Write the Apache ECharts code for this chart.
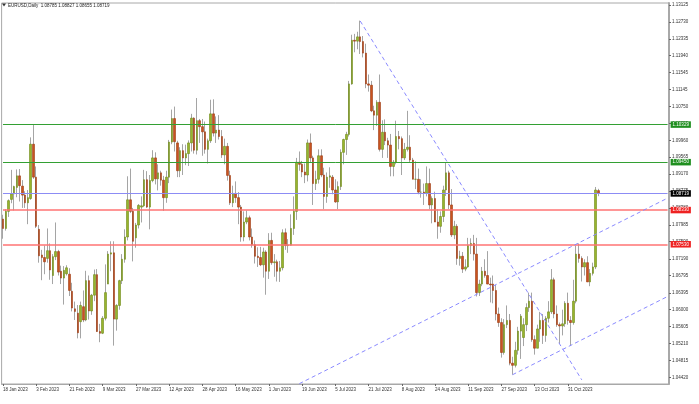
<!DOCTYPE html>
<html><head><meta charset="utf-8">
<script src="https://cdn.jsdelivr.net/npm/echarts@6/dist/echarts.min.js"></script>
<style>html,body{margin:0;padding:0;background:#fff}#c{width:699px;height:404px}</style>
</head><body><div id="c"></div>
<script>
const dates = [
'18 Jan','19 Jan','20 Jan','23 Jan','24 Jan','25 Jan','26 Jan','27 Jan','30 Jan','31 Jan',
'1 Feb','2 Feb','3 Feb','6 Feb','7 Feb','8 Feb','9 Feb','10 Feb','13 Feb','14 Feb','15 Feb','16 Feb','17 Feb','20 Feb','21 Feb','22 Feb','23 Feb','24 Feb','27 Feb','28 Feb',
'1 Mar','2 Mar','3 Mar','6 Mar','7 Mar','8 Mar','9 Mar','10 Mar','13 Mar','14 Mar','15 Mar','16 Mar','17 Mar','20 Mar','21 Mar','22 Mar','23 Mar','24 Mar','27 Mar','28 Mar','29 Mar','30 Mar','31 Mar',
'3 Apr','4 Apr','5 Apr','6 Apr','7 Apr','10 Apr','11 Apr','12 Apr','13 Apr','14 Apr','17 Apr','18 Apr','19 Apr','20 Apr','21 Apr','24 Apr','25 Apr','26 Apr','27 Apr','28 Apr',
'1 May','2 May','3 May','4 May','5 May','8 May','9 May','10 May','11 May','12 May','15 May','16 May','17 May','18 May','19 May','22 May','23 May','24 May','25 May','26 May','29 May','30 May','31 May',
'1 Jun','2 Jun','5 Jun','6 Jun','7 Jun','8 Jun','9 Jun','12 Jun','13 Jun','14 Jun','15 Jun','16 Jun','19 Jun','20 Jun','21 Jun','22 Jun','23 Jun','26 Jun','27 Jun','28 Jun','29 Jun','30 Jun',
'3 Jul','4 Jul','5 Jul','6 Jul','7 Jul','10 Jul','11 Jul','12 Jul','13 Jul','14 Jul','17 Jul','18 Jul','19 Jul','20 Jul','21 Jul','24 Jul','25 Jul','26 Jul','27 Jul','28 Jul','31 Jul',
'1 Aug','2 Aug','3 Aug','4 Aug','7 Aug','8 Aug','9 Aug','10 Aug','11 Aug','14 Aug','15 Aug','16 Aug','17 Aug','18 Aug','21 Aug','22 Aug','23 Aug','24 Aug','25 Aug','28 Aug','29 Aug','30 Aug','31 Aug',
'1 Sep','4 Sep','5 Sep','6 Sep','7 Sep','8 Sep','11 Sep','12 Sep','13 Sep','14 Sep','15 Sep','18 Sep','19 Sep','20 Sep','21 Sep','22 Sep','25 Sep','26 Sep','27 Sep','28 Sep','29 Sep',
'2 Oct','3 Oct','4 Oct','5 Oct','6 Oct','9 Oct','10 Oct','11 Oct','12 Oct','13 Oct','16 Oct','17 Oct','18 Oct','19 Oct','20 Oct','23 Oct','24 Oct','25 Oct','26 Oct','27 Oct','30 Oct','31 Oct',
'1 Nov','2 Nov','3 Nov','6 Nov','7 Nov','8 Nov','9 Nov','10 Nov','13 Nov','14 Nov','15 Nov'];

const opens = [
1.0812,1.0790,1.0830,1.0858,1.0871,1.0886,1.0913,1.0889,1.0868,1.0850,
1.0860,1.0987,1.0910,1.0788,1.0728,1.0722,1.0720,1.0738,1.0680,1.0724,
1.0736,1.0690,1.0674,1.0684,1.0683,1.0643,1.0602,1.0592,1.0572,1.0607,
1.0576,1.0668,1.0597,1.0634,1.0682,1.0549,1.0545,1.0580,1.0660,1.0730,
1.0733,1.0578,1.0610,1.0668,1.0718,1.0770,1.0857,1.0830,1.0768,1.0798,
1.0840,1.0843,1.0904,1.0840,1.0902,1.0955,1.0906,1.0920,1.0903,1.0862,
1.0910,1.0992,1.1047,1.0990,1.0925,1.0972,1.0955,1.0965,1.0990,1.1048,
1.0973,1.1042,1.1028,1.1016,1.0975,1.0995,1.1058,1.1013,1.1020,1.1005,
1.0962,1.0982,1.0914,1.0850,1.0872,1.0862,1.0840,1.0770,1.0805,1.0815,
1.0770,1.0752,1.0725,1.0722,1.0705,1.0735,1.0690,1.0762,1.0710,1.0712,
1.0690,1.0698,1.0780,1.0750,1.0751,1.0790,1.0830,1.0945,1.0940,1.0922,
1.0915,1.0990,1.0955,1.0895,1.0905,1.0960,1.0915,1.0865,1.0910,1.0910,
1.0880,1.0852,1.0888,1.0968,1.0998,1.1010,1.1128,1.1230,1.1228,1.1238,
1.1227,1.1200,1.1128,1.1125,1.1065,1.1055,1.1085,1.0975,1.1015,1.0995,
1.0985,1.0935,1.0945,1.1005,1.1000,1.0955,1.0975,1.0980,1.0950,1.0905,
1.0905,1.0875,1.0875,1.0872,1.0895,1.0845,1.0860,1.0805,1.0795,1.0818,
1.0880,1.0920,1.0845,1.0775,1.0795,1.0720,1.0725,1.0695,1.0700,1.0750,
1.0755,1.0730,1.0640,1.0660,1.0690,1.0680,1.0660,1.0660,1.0645,1.0590,
1.0570,1.0500,1.0565,1.0575,1.0475,1.0470,1.0505,1.0550,1.0535,1.0565,
1.0605,1.0620,1.0530,1.0510,1.0555,1.0575,1.0540,1.0580,1.0595,1.0670,
1.0590,1.0565,1.0562,1.0567,1.0615,1.0575,1.0570,1.0620,1.0730,1.0720,
1.0700,1.0710,1.0665,1.0685,1.0700,1.08785];

const highs = [
1.0822,1.0835,1.0858,1.0927,1.0890,1.0928,1.0929,1.0903,1.0877,1.0880,
1.1003,1.1033,1.0935,1.0798,1.0740,1.0750,1.0790,1.0755,1.0730,1.0804,
1.0740,1.0703,1.0702,1.0704,1.0697,1.0663,1.0619,1.0611,1.0619,1.0645,
1.0691,1.0680,1.0637,1.0694,1.0695,1.0567,1.0585,1.0706,1.0737,1.0760,
1.0760,1.0613,1.0670,1.0730,1.0788,1.0912,1.0930,1.0838,1.0803,1.0847,
1.0865,1.0927,1.0924,1.0915,1.0973,1.0968,1.0940,1.0925,1.0913,1.0925,
1.0997,1.1068,1.1075,1.0995,1.0980,1.0987,1.0986,1.0996,1.1058,1.1050,
1.1095,1.1046,1.1046,1.1040,1.1000,1.1091,1.1092,1.1052,1.1055,1.1020,
1.1000,1.0990,1.0925,1.0890,1.0900,1.0875,1.0845,1.0830,1.0832,1.0820,
1.0790,1.0762,1.0746,1.0747,1.0745,1.0739,1.0779,1.0780,1.0730,1.0717,
1.0714,1.0788,1.0790,1.0765,1.0823,1.0865,1.0955,1.0970,1.0948,1.0942,
1.0998,1.1012,1.0960,1.0925,1.0975,1.0975,1.0932,1.0921,1.0933,1.0915,
1.0905,1.0900,1.0975,1.1000,1.1016,1.1135,1.1243,1.1245,1.1250,1.1276,
1.1240,1.1222,1.1150,1.1135,1.1077,1.1090,1.1150,1.1043,1.1045,1.1002,
1.1011,1.0950,1.1042,1.1018,1.1005,1.0990,1.1065,1.1008,1.0955,1.0947,
1.0930,1.0905,1.0895,1.0935,1.0930,1.0865,1.0876,1.0835,1.0830,1.0890,
1.0945,1.0925,1.0882,1.0808,1.0800,1.0738,1.0735,1.0718,1.0768,1.0767,
1.0775,1.0768,1.0670,1.0700,1.0718,1.0737,1.0675,1.0680,1.0658,1.0605,
1.0580,1.0578,1.0610,1.0590,1.0490,1.0525,1.0560,1.0590,1.0580,1.0615,
1.0640,1.0640,1.0540,1.0565,1.0595,1.0590,1.0585,1.0620,1.0695,1.0675,
1.0610,1.0570,1.0600,1.0620,1.0640,1.0585,1.0670,1.0750,1.0755,1.0725,
1.0718,1.0725,1.0695,1.0710,1.0887,1.08827];

const lows = [
1.0766,1.0785,1.0817,1.0849,1.0832,1.0863,1.0853,1.0838,1.0838,1.0800,
1.0857,1.0906,1.0791,1.0710,1.0669,1.0683,1.0710,1.0670,1.0660,1.0716,
1.0680,1.0660,1.0612,1.0680,1.0632,1.0596,1.0576,1.0533,1.0533,1.0571,
1.0573,1.0577,1.0588,1.0620,1.0548,1.0524,1.0543,1.0575,1.0660,1.0690,
1.0516,1.0551,1.0600,1.0660,1.0710,1.0762,1.0826,1.0713,1.0745,1.0790,
1.0804,1.0840,1.0838,1.0788,1.0898,1.0893,1.0879,1.0890,1.0831,1.0850,
1.0896,1.0987,1.0970,1.0910,1.0910,1.0915,1.0938,1.0936,1.0970,1.0965,
1.0963,1.0990,1.0960,1.0965,1.0942,1.0990,1.1005,1.0990,1.0998,1.0955,
1.0940,1.0902,1.0845,1.0840,1.0850,1.0800,1.0759,1.0760,1.0800,1.0762,
1.0745,1.0708,1.0700,1.0702,1.0675,1.0635,1.0672,1.0705,1.0677,1.0666,
1.0665,1.0692,1.0740,1.0733,1.0750,1.0775,1.0810,1.0925,1.0910,1.0896,
1.0900,1.0945,1.0845,1.0880,1.0895,1.0910,1.0835,1.0850,1.0885,1.0870,
1.0850,1.0835,1.0880,1.0940,1.0962,1.1005,1.1126,1.1202,1.1209,1.1198,
1.1190,1.1118,1.1110,1.1062,1.1020,1.1030,1.0970,1.0955,1.0985,1.0955,
1.0912,1.0912,1.0940,1.0975,1.0915,1.0950,1.0970,1.0945,1.0905,1.0882,
1.0870,1.0862,1.0845,1.0865,1.0835,1.0802,1.0805,1.0766,1.0780,1.0805,
1.0866,1.0835,1.0770,1.0765,1.0705,1.0703,1.0686,1.0690,1.0698,1.0730,
1.0715,1.0631,1.0632,1.0655,1.0675,1.0660,1.0617,1.0615,1.0575,1.0560,
1.0488,1.0495,1.0557,1.0470,1.0448,1.0465,1.0495,1.0485,1.0515,1.0550,
1.0595,1.0525,1.0495,1.0510,1.0525,1.0520,1.0525,1.0570,1.0590,1.0580,
1.0560,1.0520,1.0540,1.0560,1.0565,1.0515,1.0565,1.0615,1.0710,1.0666,
1.0680,1.0665,1.0655,1.0680,1.0695,1.08655];

const closes = [
1.0790,1.0830,1.0855,1.0871,1.0888,1.0913,1.0890,1.0868,1.0850,1.0862,
1.0987,1.0910,1.0795,1.0726,1.0722,1.0712,1.0738,1.0693,1.0724,1.0736,
1.0688,1.0674,1.0692,1.0698,1.0645,1.0604,1.0596,1.0546,1.0610,1.0576,
1.0668,1.0597,1.0634,1.0682,1.0549,1.0545,1.0580,1.0640,1.0730,1.0733,
1.0578,1.0610,1.0668,1.0718,1.0770,1.0857,1.0830,1.0760,1.0798,1.0844,
1.0843,1.0904,1.0840,1.0902,1.0955,1.0906,1.0920,1.0903,1.0862,1.0910,
1.0992,1.1047,1.0993,1.0925,1.0972,1.0955,1.0965,1.0990,1.1048,1.0973,
1.1042,1.1028,1.1016,1.0975,1.0995,1.1058,1.1013,1.1020,1.1005,1.0962,
1.0982,1.0914,1.0850,1.0872,1.0862,1.0840,1.0770,1.0805,1.0815,1.0770,
1.0752,1.0725,1.0722,1.0705,1.0735,1.0690,1.0762,1.0710,1.0712,1.0690,
1.0698,1.0780,1.0750,1.0751,1.0790,1.0830,1.0945,1.0940,1.0922,1.0915,
1.0990,1.0955,1.0895,1.0905,1.0960,1.0915,1.0865,1.0910,1.0913,1.0880,
1.0852,1.0888,1.0968,1.0998,1.1010,1.1128,1.1230,1.1228,1.1238,1.1227,
1.1200,1.1128,1.1125,1.1065,1.1055,1.1085,1.0975,1.1015,1.0995,1.0985,
1.0935,1.0945,1.1005,1.1000,1.0955,1.0975,1.0980,1.0950,1.0905,1.0905,
1.0875,1.0875,1.0872,1.0895,1.0845,1.0860,1.0805,1.0795,1.0818,1.0880,
1.0920,1.0845,1.0775,1.0795,1.0720,1.0725,1.0695,1.0700,1.0750,1.0755,
1.0730,1.0640,1.0660,1.0690,1.0680,1.0660,1.0658,1.0645,1.0590,1.0570,
1.0500,1.0565,1.0575,1.0475,1.0470,1.0505,1.0550,1.0585,1.0565,1.0605,
1.0620,1.0530,1.0510,1.0555,1.0575,1.0540,1.0580,1.0595,1.0670,1.0590,
1.0565,1.0562,1.0567,1.0615,1.0575,1.0570,1.0620,1.0730,1.0720,1.0700,
1.0710,1.0665,1.0685,1.0700,1.0880,1.08719];

const yTickValues = [1.13125,1.12730,1.12335,1.11940,1.11545,1.11145,1.10750,1.10355,1.09960,1.09565,1.09170,1.08775,1.08380,1.07985,1.07590,1.07190,1.06795,1.06395,1.06000,1.05605,1.05210,1.04815,1.04420];
const levelLines = [1.10329, 1.09450, 1.08719, 1.08330, 1.07530];
const trendLines = [
  [[129, 1.1275], [209, 1.0436]],
  [[107, 1.0427], [240, 1.0861]],
  [[184, 1.0448], [240, 1.0631]]
];
const headerText = 'EURUSD,Daily  1.08785 1.08827 1.08655 1.08719';
const yearSuffix = ' 2023';
const labelEvery = 12;
const rightPadBars = 25;

const FONT = 'Liberation Sans';
const categories = dates.concat(new Array(rightPadBars).fill(''));
const nBars = dates.length;
const lastCat = categories.length - 1;
const wickData = dates.map((d, i) => [opens[i], closes[i], lows[i], highs[i]]);
const bodyData = dates.map((d, i) => [opens[i], closes[i], Math.min(opens[i], closes[i]), Math.max(opens[i], closes[i])]);
const showIdx = (idx) => idx % labelEvery === 0 && idx < nBars;

const levelStyles = [
  {line: '#33a033', w: 1, bg: '#1f8f1f', fg: '#fff'},
  {line: '#33a033', w: 1, bg: '#1f8f1f', fg: '#fff'},
  {line: '#8c8cf5', w: 1, bg: '#000000', fg: '#fff'},
  {line: '#ff7373', w: 1.5, bg: '#ee2222', fg: '#fff'},
  {line: '#ff7373', w: 1.5, bg: '#ee2222', fg: '#fff'}
];
const levelMarks = levelLines.map((v, k) => [
  {coord: [0, v],
   lineStyle: {color: levelStyles[k].line, width: levelStyles[k].w, type: 'solid'},
   label: {show: true, position: 'end', distance: 3, formatter: v.toFixed(5),
     color: levelStyles[k].fg, backgroundColor: levelStyles[k].bg,
     fontSize: 4.5, fontFamily: FONT, padding: [1, 2, 0.5, 2], lineHeight: 5}},
  {coord: [lastCat, v]}
]);
const trendMarks = trendLines.map(t => [
  {coord: t[0], lineStyle: {color: '#8a8aff', width: 1, type: [4, 3]}, label: {show: false}},
  {coord: t[1]}
]);

const chart = echarts.init(document.getElementById('c'), null, {renderer: 'canvas'});
chart.setOption({
  animation: false,
  backgroundColor: '#ffffff',
  grid: {left: 1, right: 30, top: 3, bottom: 20, show: true, borderColor: '#a8a8a8', borderWidth: 1, backgroundColor: 'transparent'},
  graphic: [
    {type: 'polygon', shape: {points: [[2, 3.5], [6, 3.5], [4, 6.5]]}, style: {fill: '#333'}, z: 100},
    {type: 'text', left: 8, top: 3, style: {text: headerText, font: '4.5px "' + FONT + '"', fill: '#222'}, z: 100}
  ],
  xAxis: {
    type: 'category', data: categories, boundaryGap: true,
    axisLine: {show: true, lineStyle: {color: '#a8a8a8'}},
    axisTick: {show: true, interval: (idx) => showIdx(idx), alignWithLabel: true, length: 2, lineStyle: {color: '#666'}},
    axisLabel: {show: true, interval: (idx) => showIdx(idx), align: 'left', margin: 3, fontSize: 4.5, fontFamily: FONT, color: '#333',
      formatter: (v) => v ? v + yearSuffix : ''},
    splitLine: {show: false}
  },
  yAxis: {
    type: 'value', position: 'right', min: 1.04263, max: 1.13172, scale: true,
    axisLine: {show: true, lineStyle: {color: '#a8a8a8', width: 2}},
    axisTick: {show: true, customValues: yTickValues, length: 2, lineStyle: {color: '#666'}},
    axisLabel: {show: true, customValues: yTickValues, formatter: (v) => v.toFixed(5), margin: 3, fontSize: 4.5, fontFamily: FONT, color: '#333'},
    splitLine: {show: false}
  },
  series: [
    {
      type: 'candlestick', name: 'wick', data: wickData, barWidth: 1, clip: true,
      itemStyle: {color: '#a5a5a5', color0: '#a5a5a5', borderColor: '#a5a5a5', borderColor0: '#a5a5a5', borderWidth: 1},
      markLine: {symbol: ['none', 'none'], silent: true, animation: false, data: levelMarks.concat(trendMarks)}
    },
    {
      type: 'candlestick', name: 'body', data: bodyData, barWidth: 2, clip: true,
      itemStyle: {color: '#98b42c', color0: '#c9531f', borderColor: '#6f8a1a', borderColor0: '#9c3a12', borderWidth: 0.6}
    }
  ]
});
</script></body></html>
